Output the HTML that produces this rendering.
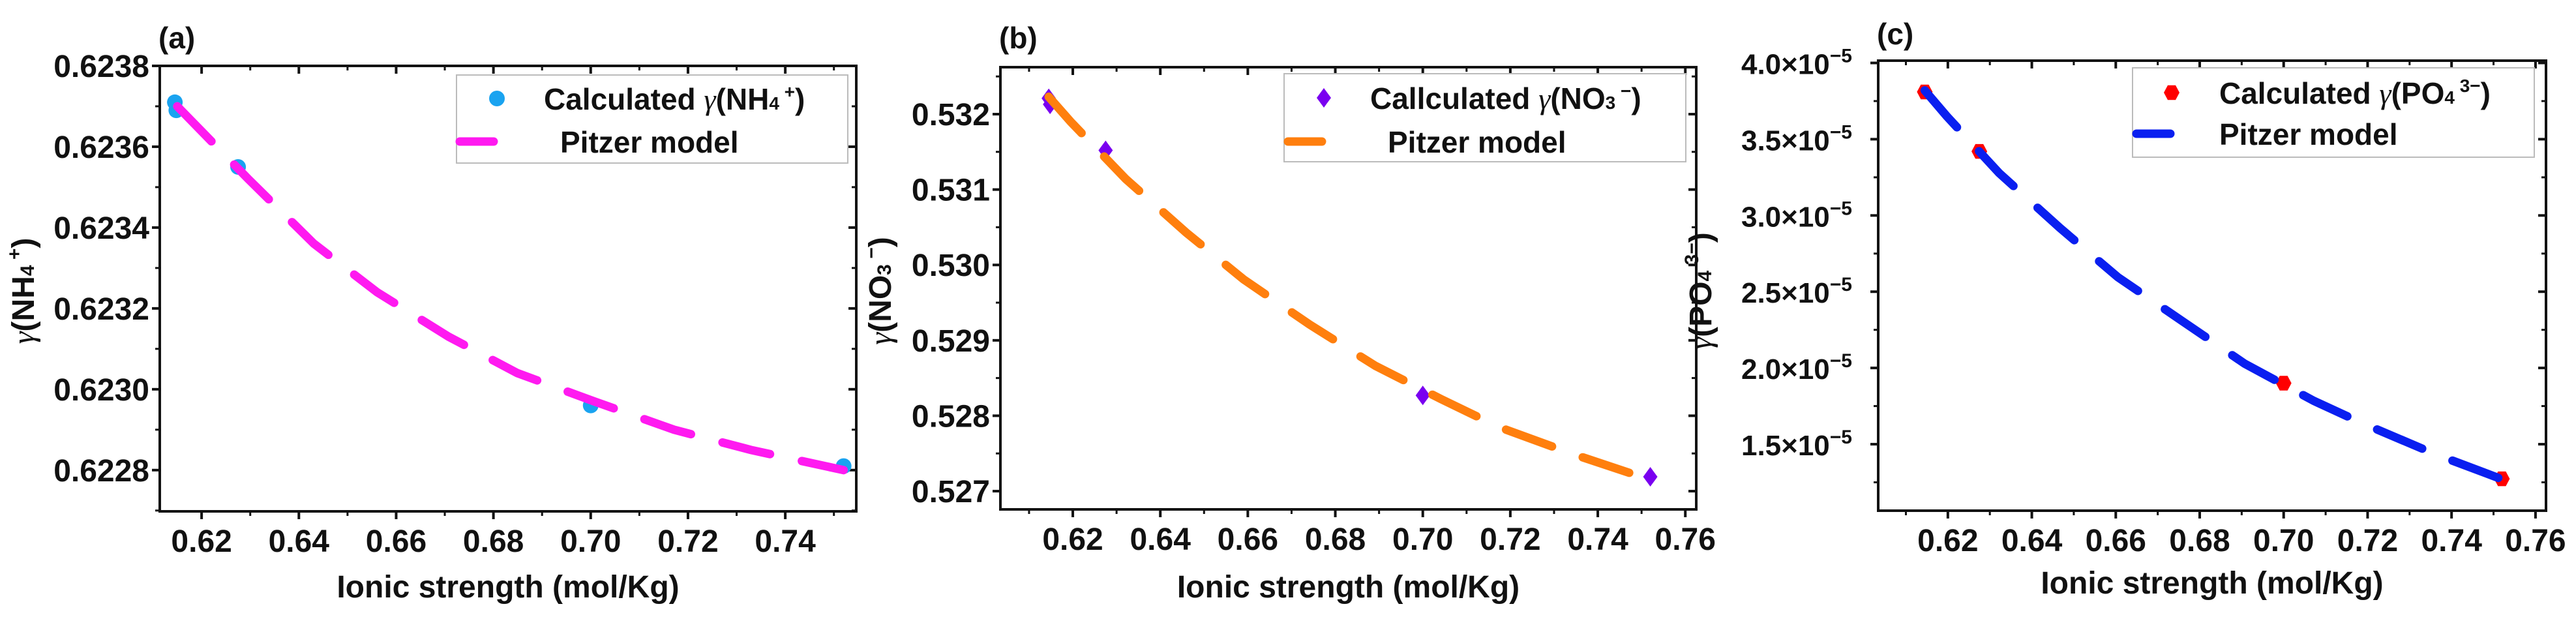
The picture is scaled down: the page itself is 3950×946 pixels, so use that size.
<!DOCTYPE html>
<html><head><meta charset="utf-8"><style>
html,body{margin:0;padding:0;background:#fff;}
svg{display:block;font-family:"Liberation Sans",Arial,sans-serif;font-weight:bold;}
</style></head><body>
<svg id="fig" width="3950" height="946" viewBox="0 0 3950 946" xmlns="http://www.w3.org/2000/svg"></svg>
<script>
// Panel (a) NH4+
const aCalcX = [0.6145, 0.6148, 0.6275, 0.700, 0.752];
const aCalcY = [0.62371, 0.62369, 0.62355, 0.62296, 0.62281];
const aModelX = [0.615, 0.6296, 0.6431, 0.6561, 0.6708, 0.6849, 0.7007, 0.7171, 0.7329, 0.752];
const aModelY = [0.62370, 0.62352, 0.62336, 0.62324, 0.62313, 0.62304, 0.62297, 0.62290, 0.62285, 0.62280];
const aYTicks = [0.6228, 0.6230, 0.6232, 0.6234, 0.6236, 0.6238];
const aYLabels = ["0.6228","0.6230","0.6232","0.6234","0.6236","0.6238"];
const aXTicks = [0.62, 0.64, 0.66, 0.68, 0.70, 0.72, 0.74];
const aXLabels = ["0.62","0.64","0.66","0.68","0.70","0.72","0.74"];
// Panel (b) NO3-
const bCalcX = [0.6145, 0.6148, 0.6275, 0.700, 0.752];
const bCalcY = [0.53221, 0.53213, 0.53152, 0.52827, 0.52719];
const bModelX = [0.6145, 0.6195, 0.6321, 0.6459, 0.6590, 0.6741, 0.6892, 0.7042, 0.7174, 0.7344, 0.752];
const bModelY = [0.53223, 0.53190, 0.53114, 0.53043, 0.52981, 0.52921, 0.52866, 0.52822, 0.52785, 0.52749, 0.52715];
const bYTicks = [0.527, 0.528, 0.529, 0.530, 0.531, 0.532];
const bYLabels = ["0.527","0.528","0.529","0.530","0.531","0.532"];
const bXTicks = [0.62, 0.64, 0.66, 0.68, 0.70, 0.72, 0.74, 0.76];
const bXLabels = ["0.62","0.64","0.66","0.68","0.70","0.72","0.74","0.76"];
// Panel (c) PO4 3- (units of 1e-5)
const cCalcX = [0.6145, 0.6275, 0.700, 0.752];
const cCalcY = [3.81, 3.42, 1.90, 1.273];
const cModelX = [0.6145, 0.6197, 0.6322, 0.6467, 0.6605, 0.6756, 0.6907, 0.7072, 0.7184, 0.7361, 0.752];
const cModelY = [3.82, 3.652, 3.278, 2.918, 2.595, 2.312, 2.028, 1.784, 1.642, 1.435, 1.27];
const cYTicks = [1.5, 2.0, 2.5, 3.0, 3.5, 4.0];
const cYLabels = ["1.5","2.0","2.5","3.0","3.5","4.0"];
const cXTicks = [0.62, 0.64, 0.66, 0.68, 0.70, 0.72, 0.74, 0.76];
const cXLabels = ["0.62","0.64","0.66","0.68","0.70","0.72","0.74","0.76"];

const NS = "http://www.w3.org/2000/svg";
const fig = document.getElementById('fig');
function mk(tag, attrs, parent, txt){
  const e = document.createElementNS(NS, tag);
  for (const k in attrs) e.setAttribute(k, attrs[k]);
  if (txt !== undefined) e.textContent = txt;
  (parent||fig).appendChild(e);
  return e;
}

function panel(p){
  const g = mk('g', {});
  
  
  const sx = v => p.L + (v - p.x0) / (p.x1 - p.x0) * (p.R - p.L);
  const sy = v => p.B - (v - p.y0) / (p.y1 - p.y0) * (p.B - p.T);
  const fr = mk('rect', {x:p.L, y:p.T, width:p.R-p.L, height:p.B-p.T, fill:'none', stroke:'#111', 'stroke-width':4}, g);
  
  
  const xt = mk('g', {}, g);
  
  
  for (let i = 0; i < p.xt.length; i++) {
    const x = sx(p.xt[i]);
    mk('line', {x1:x, x2:x, y1:p.B, y2:p.B+12, stroke:'#111','stroke-width':4}, xt);
    mk('line', {x1:x, x2:x, y1:p.T, y2:p.T+12, stroke:'#111','stroke-width':4}, xt);
    const t = mk('text', {x:x, y:p.B+62, 'text-anchor':'middle', 'font-size':48, fill:'#111'}, xt, p.xl[i]);
    
    
  }
  for (let v = Math.round(p.x0*100)/100 ; v <= p.x1; v = Math.round((v+0.01)*100)/100) {
    if (v < p.x0) continue;
    const x = sx(v);
    mk('line', {x1:x, x2:x, y1:p.B, y2:p.B+7, stroke:'#111','stroke-width':3}, xt);
    mk('line', {x1:x, x2:x, y1:p.T, y2:p.T+7, stroke:'#111','stroke-width':3}, xt);
  }
  const xtt = mk('text', {x:(p.L+p.R)/2, y:p.xTitleY, 'text-anchor':'middle', 'font-size':48, fill:'#111'}, g, 'Ionic strength (mol/Kg)');
  
  
  const yt = mk('g', {}, g);
  
  
  const step = p.yt[1] - p.yt[0];
  for (let i = 0; i < p.yt.length; i++) {
    const y = sy(p.yt[i]);
    mk('line', {x1:p.L-12, x2:p.L, y1:y, y2:y, stroke:'#111','stroke-width':4}, yt);
    mk('line', {x1:p.R-12, x2:p.R, y1:y, y2:y, stroke:'#111','stroke-width':4}, yt);
    const t = mk('text', {x:p.L-16, y:y+17, 'text-anchor':'end', 'font-size':48, fill:'#111'}, yt, p.yl[i]);
    if (p.sci) {
      t.textContent = p.yl[i] + '×10';
      mk('tspan', {dy:-18, 'font-size':30}, t, '−5');
      t.setAttribute('x', p.L - 40);
      t.setAttribute('font-size', 44);
    }
    
    
  }
  for (let k = -1; k < p.yt.length; k++) {
    const v = p.yt[0] + (k + 0.5) * step;
    if (v < p.y0 || v > p.y1) continue;
    const y = sy(v);
    mk('line', {x1:p.L-7, x2:p.L, y1:y, y2:y, stroke:'#111','stroke-width':3}, yt);
    mk('line', {x1:p.R-7, x2:p.R, y1:y, y2:y, stroke:'#111','stroke-width':3}, yt);
  }
  const yti = mk('text', {x:0, y:0, 'text-anchor':'middle', 'font-size':48, fill:'#111', transform:`translate(${p.yTitleX},446) rotate(-90)`}, g);
  mk('tspan', {'font-family':'"Liberation Serif",serif','font-style':'italic','font-weight':'normal'}, yti, 'γ');
  mk('tspan', {}, yti, '(' + p.ion);
  mk('tspan', {'font-size':30, dy:0}, yti, p.sub);
  mk('tspan', {'font-size':30, dy:-20}, yti, ' ' + p.sup);
  mk('tspan', {dy:20}, yti, ')');
  
  
  const pl = mk('text', {x:p.L-2, y:p.labelY, 'font-size':46, fill:'#111'}, g, '(' + p.id + ')');
  
  
  let d = '';
  for (let i = 0; i < p.mx.length; i++) d += (i ? 'L' : 'M') + sx(p.mx[i]).toFixed(1) + ',' + sy(p.my[i]).toFixed(1);
  const mg = mk('g', {}, g);
  
  
  for (let i = 0; i < p.cx.length; i++) {
    const m = marker(p.marker, p.mcolor, sx(p.cx[i]), sy(p.cy[i]), mg);
    
    
  }
  const line = mk('path', {d:d, fill:'none', stroke:p.lcolor, 'stroke-width':13, 'stroke-dasharray':'75 50', 'stroke-linecap':'round'}, g);
  
  
  const lg = mk('g', {}, g);
  
  
  mk('rect', {x:p.leg.x, y:p.leg.y, width:p.leg.w, height:p.leg.h, fill:'#fff', stroke:'#bbb', 'stroke-width':2}, lg);
  const e1 = mk('g', {}, lg);
  
  
  marker(p.marker, p.mcolor, p.leg.mx, p.leg.my1, e1);
  const t1 = mk('text', {x:p.leg.tx, y:p.leg.my1+17, 'font-size':46, fill:'#111'}, e1, p.calcWord + ' ');
  mk('tspan', {'font-family':'"Liberation Serif",serif','font-style':'italic','font-weight':'normal'}, t1, 'γ');
  mk('tspan', {}, t1, '(' + p.ion);
  mk('tspan', {'font-size':28}, t1, p.sub);
  mk('tspan', {'font-size':28, dy:-18}, t1, ' ' + p.sup);
  mk('tspan', {dy:18}, t1, ')');
  const e2 = mk('g', {}, lg);
  
  
  mk('line', {x1:p.leg.lx1, x2:p.leg.lx2, y1:p.leg.my2, y2:p.leg.my2, stroke:p.lcolor, 'stroke-width':13, 'stroke-linecap':'round'}, e2);
  mk('text', {x:p.leg.tx2, y:p.leg.my2+17, 'font-size':46, fill:'#111'}, e2, 'Pitzer model');
}

function marker(type, color, x, y, parent){
  if (type === 'circle') return mk('circle', {cx:x, cy:y, r:12, fill:color}, parent);
  if (type === 'diamond') return mk('path', {d:`M${x},${y-15}L${x+11},${y}L${x},${y+15}L${x-11},${y}Z`, fill:color}, parent);
  let d = '';
  for (let k = 0; k < 6; k++) { const a = Math.PI/3*k; d += (k?'L':'M') + (x+12*Math.cos(a)).toFixed(1) + ',' + (y+13*Math.sin(a)).toFixed(1); }
  return mk('path', {d:d+'Z', fill:color}, parent);
}

panel({id:'a', L:245, R:1313, T:101, B:784, x0:0.6114, x1:0.7546, y0:0.622698, y1:0.6238,
  xt:aXTicks, xl:aXLabels, yt:aYTicks, yl:aYLabels, cx:aCalcX, cy:aCalcY, mx:aModelX, my:aModelY,
  marker:'circle', mcolor:'#1aa3f0', lcolor:'#ff1af0', ion:'NH', sub:'4', sup:'+', calcWord:'Calculated',
  yTitleX:52, xTitleY:916, labelY:74, sci:false,
  leg:{x:700, y:115, w:600, h:135, mx:762, my1:151, my2:217, tx:834, lx1:705, lx2:757, tx2:859}});
panel({id:'b', L:1534, R:2601, T:103, B:781, x0:0.60345, x1:0.7625, y0:0.526758, y1:0.532623,
  xt:bXTicks, xl:bXLabels, yt:bYTicks, yl:bYLabels, cx:bCalcX, cy:bCalcY, mx:bModelX, my:bModelY,
  marker:'diamond', mcolor:'#7a00f0', lcolor:'#ff7f0e', ion:'NO', sub:'3', sup:'−', calcWord:'Callculated',
  yTitleX:1366, xTitleY:916, labelY:74, sci:false,
  leg:{x:1969, y:113, w:616, h:135, mx:2030, my1:150, my2:217, tx:2101, lx1:1975, lx2:2027, tx2:2128}});
panel({id:'c', L:2880, R:3904, T:93, B:783, x0:0.6034, x1:0.7625, y0:1.064, y1:4.015,
  xt:cXTicks, xl:cXLabels, yt:cYTicks, yl:cYLabels, cx:cCalcX, cy:cCalcY, mx:cModelX, my:cModelY,
  marker:'hex', mcolor:'#ff0000', lcolor:'#0a1ff0', ion:'PO', sub:'4', sup:'3−', calcWord:'Calculated',
  yTitleX:2624, xTitleY:910, labelY:68, sci:true,
  leg:{x:3270, y:104, w:616, h:137, mx:3330, my1:142, my2:205, tx:3403, lx1:3276, lx2:3328, tx2:3403}});
</script>
</body></html>
